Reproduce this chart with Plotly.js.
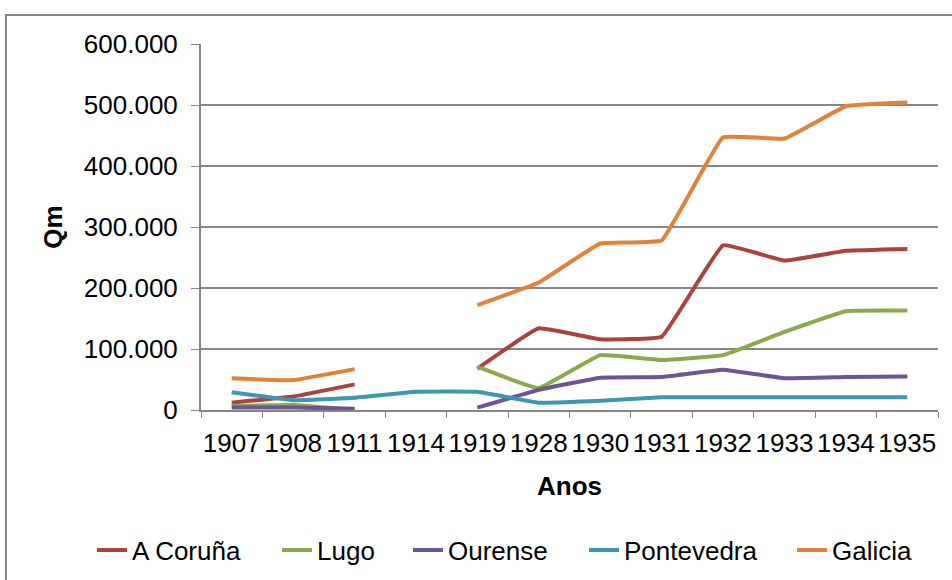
<!DOCTYPE html>
<html>
<head>
<meta charset="utf-8">
<script src="https://cdn.plot.ly/plotly-3.0.1.min.js"></script>
<style>
  html, body { margin: 0; padding: 0; background: #fff; overflow: hidden; }
  #frame { position: absolute; left: 5px; top: 14px; width: 960px; height: 600px; border: 2px solid #868686; }
  #chart { position: absolute; left: 0; top: 0; width: 952px; height: 580px; }
</style>
</head>
<body>
<div id="frame"></div>
<div id="chart"></div>
<script>
// production per province (Qm), gaps where no data
let years = ['1907', '1908', '1911', '1914', '1919', '1928', '1930', '1931', '1932', '1933', '1934', '1935'];
let coruna = [12000, 22000, 42000, null, 68000, 134000, 116000, 120000, 270000, 245000, 261000, 264000];
let lugo = [7000, 8000, 0, null, 71000, 36000, 90000, 82000, 90000, 128000, 162000, 163000];
let ourense = [4000, 4000, 2000, null, 4000, 33000, 53000, 54000, 66000, 52000, 54000, 55000];
let pontevedra = [29000, 16000, 20000, 30000, 30000, 12000, 15000, 21000, 21000, 21000, 21000, 21000];
let galicia = [52000, 49000, 67000, null, 172000, 209000, 273000, 278000, 447000, 445000, 498000, 504000];

let names = ['A Coruña', 'Lugo', 'Ourense', 'Pontevedra', 'Galicia'];
let colors = ['#AA4240', '#8BA84A', '#6D5493', '#3D97B0', '#E0823A'];
let series = [coruna, lugo, ourense, pontevedra, galicia];
// one legend per series so the entries can be spread like the original
let legendKeys = ['legend', 'legend2', 'legend3', 'legend4', 'legend5'];
let legendLeft = [92, 277, 408, 584, 792]; // px from the left of the page

let data = series.map((ys, i) => ({
  x: years,
  y: ys,
  type: 'scatter',
  mode: 'lines',
  name: names[i],
  legend: legendKeys[i],
  connectgaps: false,
  line: {color: colors[i], width: 4, shape: 'spline', smoothing: 0.25}
}));

let font = 'Liberation Sans, Arial, sans-serif';

let layout = {
  width: 952,
  height: 580,
  margin: {l: 201, r: 14, t: 44, b: 170},
  paper_bgcolor: 'rgba(0,0,0,0)',
  plot_bgcolor: 'rgba(0,0,0,0)',
  separators: ',.',
  font: {family: font, size: 26, color: '#000'},
  showlegend: true,
  xaxis: {
    type: 'category',
    range: [-0.5, 11.5],
    title: {text: '<b>Anos</b>', font: {family: font, size: 26}, standoff: 20},
    tickangle: 0,
    showline: true, linecolor: '#868686', linewidth: 2,
    ticks: 'outside', tickson: 'boundaries', ticklen: 6, tickcolor: '#868686', tickwidth: 1,
    ticklabelstandoff: 9,
    showgrid: false,
    tickfont: {family: font, size: 26}
  },
  yaxis: {
    title: {text: '<b>Qm</b>', font: {family: font, size: 26}, standoff: 14},
    range: [0, 600000],
    dtick: 100000,
    tickformat: ',d',
    showline: true, linecolor: '#868686', linewidth: 2,
    ticks: 'outside', ticklen: 8, tickcolor: '#868686', tickwidth: 1,
    ticklabelstandoff: 8,
    showgrid: true, gridcolor: '#878787', gridwidth: 1.5,
    zeroline: false,
    tickfont: {family: font, size: 26}
  }
};

legendKeys.forEach((key, i) => {
  layout[key] = {
    orientation: 'h',
    xref: 'container', yref: 'container',
    x: legendLeft[i] / 952, xanchor: 'left',
    y: (580 - 550) / 580, yanchor: 'middle',
    font: {family: font, size: 26},
    bgcolor: 'rgba(0,0,0,0)'
  };
});

Plotly.newPlot('chart', data, layout, {displayModeBar: false, staticPlot: true});
</script>
</body>
</html>
